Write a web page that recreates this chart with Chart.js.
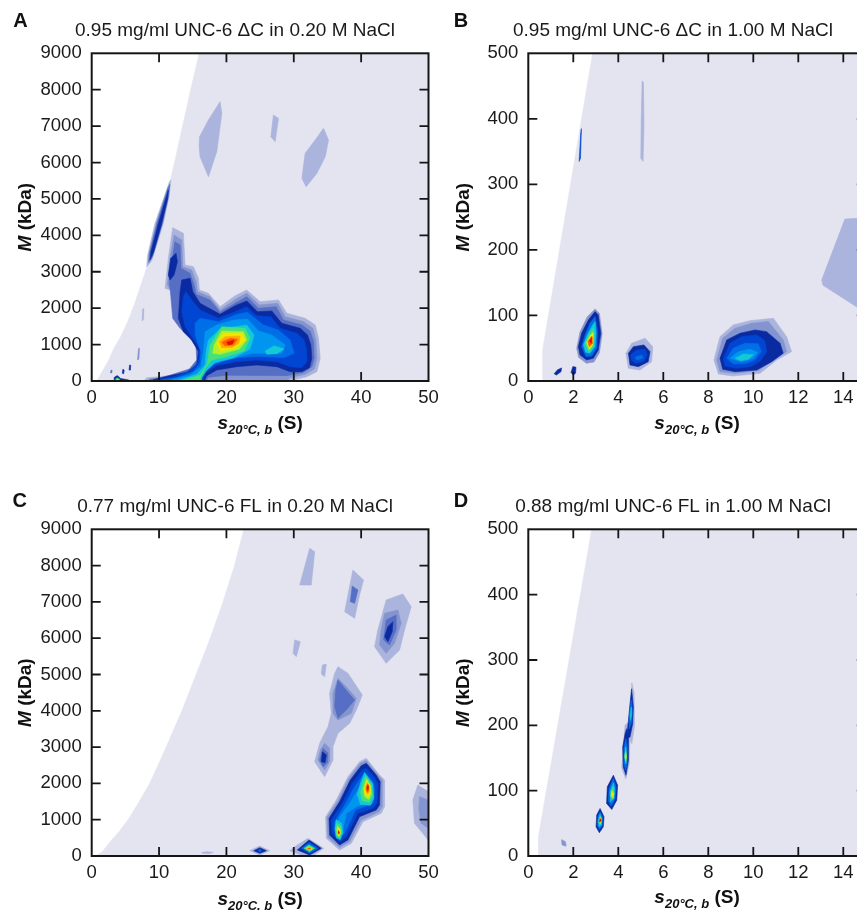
<!DOCTYPE html>
<html><head><meta charset="utf-8">
<script src="https://cdn.jsdelivr.net/npm/chart.js@4.4.1/dist/chart.umd.min.js"></script>
<style>
html,body{margin:0;padding:0;width:857px;height:910px;overflow:hidden;background:#fff;}
.p{position:absolute;}
canvas{display:block;}
</style></head>
<body>
<div class="p" style="left:0;top:0;"><canvas id="cA" width="470" height="440"></canvas></div>
<div class="p" style="left:440px;top:0;"><canvas id="cB" width="466" height="440"></canvas></div>
<div class="p" style="left:0;top:476px;"><canvas id="cC" width="470" height="434"></canvas></div>
<div class="p" style="left:440px;top:476px;"><canvas id="cD" width="466" height="434"></canvas></div>
<script>
// ---------- tick values ----------
const A_xTicks = [0,10,20,30,40,50];
const A_yTicks = [0,1000,2000,3000,4000,5000,6000,7000,8000,9000];
const B_xTicks = [0,2,4,6,8,10,12,14];
const B_yTicks = [0,100,200,300,400,500];

// ---------- panel titles ----------
const titleA = '0.95 mg/ml UNC-6 \u0394C in 0.20 M NaCl';
const titleB = '0.95 mg/ml UNC-6 \u0394C in 1.00 M NaCl';
const titleC = '0.77 mg/ml UNC-6 FL in 0.20 M NaCl';
const titleD = '0.88 mg/ml UNC-6 FL in 1.00 M NaCl';

// ---------- panel A: contour regions (s, M) ----------
const A_bound = [[0.7,0],[0.84,30],[1.7,300],[2.6,600],[3.3,900],[4.3,1217],[5.4,1650],[6.4,2133],[7.6,2800],[8.8,3450],[10.0,4100],[11.0,4900],[11.7,5520],[12.3,6000],[13.5,7000],[14.7,8000],[15.95,9000],[50,9000],[50,0]];
const A_streakP = [[8.17,3139],[8.9,3300],[10.64,4330],[11.5,5100],[11.75,5520],[11.5,5450],[9.4,4330],[8.3,3450]];
const A_streakM = [[8.45,3250],[9.05,3420],[10.5,4330],[11.4,5050],[11.6,5400],[11.3,5300],[9.65,4330],[8.55,3500]];
const A_streakN = [[8.66,3323],[9.2,3550],[10.4,4330],[11.25,5000],[11.38,5245],[11.15,5100],[9.9,4330],[8.8,3550]];
const A_up1 = [[16.0,6700],[17.33,7170],[19.06,7670],[19.32,7350],[18.57,6300],[17.33,5610],[16.09,6160],[15.95,6450]];
const A_up2 = [[26.98,7304],[27.73,7213],[27.24,6571],[26.6,6709]];
const A_up3 = [[34.41,6939],[35.16,6618],[34.67,6159],[33.43,5703],[31.84,5336],[31.2,5566],[31.69,6253],[33.18,6618]];
const A_m1 = [[12.03,4211],[13.61,4055],[13.86,3186],[15.10,3140],[15.84,2820],[15.99,2499],[17.33,2408],[19.06,2042],[21.29,2344],[23.02,2499],[25.0,2179],[27.73,2225],[28.97,1858],[31.69,1721],[33.18,1538],[33.67,1172],[33.92,623],[33.43,257],[31.94,119],[29.96,27],[29.5,-60],[7.6,-60],[7.7,0],[8.2,90],[10.15,119],[14.11,211],[15.59,348],[16.09,623],[16.09,1035],[15.35,1264],[13.61,1538],[12.62,1813],[12.37,2453],[10.89,2545],[11.38,3369]];
const A_m2 = [[12.23,4009],[13.37,3872],[13.51,3140],[14.85,3049],[15.5,2728],[15.7,2453],[17.5,2316],[19.06,1950],[21.4,2252],[23.02,2408],[24.9,2087],[27.6,2133],[28.72,1767],[31.44,1630],[32.83,1447],[33.28,1126],[33.43,623],[33.03,330],[31.69,183],[29.5,92],[28.5,-60],[8.2,-60],[8.6,60],[10.15,95],[14.36,257],[15.84,531],[15.74,989],[15.0,1218],[13.37,1492],[12.23,1767],[12.03,2408],[11.24,2636],[11.63,3369]];
const A_m3 = [[12.37,3826],[13.12,3735],[13.27,3094],[14.6,2957],[15.2,2636],[15.49,2380],[17.57,2225],[19.06,1886],[21.54,2160],[23.02,2316],[24.76,1996],[27.38,2042],[28.47,1675],[31.19,1538],[32.43,1373],[32.93,1080],[33.03,623],[32.68,394],[31.44,238],[28.97,147],[25,150],[20,160],[17.3,100],[16.8,-60],[8.6,-60],[8.66,40],[10.15,70],[14.5,330],[15.59,577],[15.49,943],[14.6,1172],[13.12,1447],[12.03,1721],[11.73,2362],[11.53,2728],[11.88,3277]];
const A_arm4 = [[11.38,2911],[11.73,3369],[12.52,3506],[12.72,3277],[12.23,2911],[11.63,2774]];
const A_m4 = [[13.37,2774],[14.6,2820],[15.0,2453],[16.09,2133],[19.06,1830],[21.29,2069],[23.02,2197],[24.6,1904],[26.74,1922],[28.22,1584],[30.95,1447],[32.04,1264],[32.53,989],[32.68,623],[32.33,367],[31.19,257],[29.46,257],[27.48,394],[24.51,440],[21.54,394],[18.57,303],[17.08,147],[16.58,-60],[8.9,-60],[9.16,40],[11.63,147],[14.11,238],[15.59,440],[15.84,806],[14.85,1126],[13.61,1355],[12.87,1721],[13.12,2453]];
const A_m5 = [[14.0,2453],[14.85,2225],[16.09,1950],[18.81,1721],[21.54,1922],[23.02,2042],[24.41,1794],[26.59,1767],[27.98,1447],[30.45,1309],[31.54,1126],[31.94,806],[31.94,531],[31.19,367],[29.46,394],[27.48,531],[24.51,577],[21.54,531],[18.57,422],[16.98,257],[16.34,-60],[9.5,-60],[9.6,30],[12.13,119],[14.6,274],[15.84,531],[15.99,897],[15.0,1172],[13.86,1492],[13.37,1904],[13.61,2316]];
const A_m6 = [[16.09,1721],[18.81,1630],[21.54,1831],[23.12,1886],[25.5,1538],[27.73,1401],[29.46,1126],[30.06,760],[28.47,641],[25.99,669],[23.52,669],[21.04,623],[18.57,513],[17.08,330],[16.09,119],[16.0,-60],[10.0,-60],[10.1,20],[12.62,92],[15.1,257],[16.09,486],[16.19,806],[15.35,1264],[15.35,1584]];
const A_m7 = [[16.83,1355],[18.57,1538],[21.04,1675],[23.12,1703],[24.76,1373],[26.74,1264],[28.72,989],[28.22,760],[25.99,760],[23.77,760],[21.29,641],[18.32,486],[16.83,257],[16.09,55],[16.0,-60],[10.6,-60],[12.13,55],[14.6,165],[16.19,394],[16.58,806]];
const A_m8 = [[17.33,1126],[19.06,1428],[23.02,1538],[24.11,1264],[23.52,879],[21.04,641],[18.32,513],[17.08,303],[16.34,92],[16.3,-60],[11.0,-60],[13.12,36],[15.59,183],[16.83,440],[16.98,806]];
const A_m8b = [[25.75,824],[27.09,971],[28.57,879],[27.48,751],[25.99,733]];
const A_m9 = [[17.57,989],[19.31,1492],[22.78,1447],[23.52,1172],[22.63,824],[19.8,659],[17.82,577],[16.83,348],[16.09,55],[16.0,-60],[11.6,-60],[13.61,27],[16.09,165],[17.18,486]];
const A_m10 = [[18.17,989],[19.31,1373],[22.53,1355],[23.02,1126],[21.93,879],[19.06,733],[17.97,760]];
const A_m11 = [[18.57,1035],[19.56,1309],[22.28,1309],[22.78,1126],[21.29,897],[19.16,824]];
const A_m12 = [[18.91,1080],[19.8,1218],[22.03,1236],[21.84,1035],[20.79,916],[19.31,916]];
const A_m13 = [[19.31,1062],[20.55,1172],[21.64,1145],[21.04,989],[19.8,971]];
const A_m14 = [[20.05,1062],[21.14,1126],[20.89,1017],[20.3,989]];
const A_dash2 = [[7.5,1650],[7.7,1700],[7.72,2000],[7.55,1960]];
const A_dash1 = [[6.8,580],[7.0,600],[7.1,900],[6.95,890]];
const A_dot3 = [[2.8,220],[3.0,230],[3.02,300],[2.85,290]];
const A_dot1 = [[4.55,210],[4.75,200],[4.82,300],[4.62,320]];
const A_dot2 = [[5.55,300],[5.75,300],[5.8,430],[5.62,440]];
const A_sp1 = [[3.3,-60],[3.35,100],[3.8,150],[4.3,70],[5.5,30],[5.6,-60]];
const A_sp2 = [[3.5,-60],[3.6,70],[3.9,85],[4.25,25],[4.4,-60]];
const A_sp3 = [[3.65,-60],[3.75,40],[3.95,35],[4.05,-60]];

// ---------- panel B ----------
const B_bound = [[0.64,0],[0.64,48],[2.86,500],[15.5,500],[15.5,0]];
const B_s1 = [[5.0,340],[5.1,335],[5.14,390],[5.12,455],[5.06,458],[5.02,400]];
const B_s2 = [[2.26,335],[2.32,340],[2.36,385],[2.33,378]];
const B_r = [[13.04,154],[14.07,247],[15.5,250],[15.5,100],[14.6,113],[13.1,146]];
const B_d1 = [[1.15,11],[1.3,17],[1.48,20],[1.45,14],[1.25,9]];
const B_d2 = [[1.9,13],[1.98,22],[2.12,21],[2.1,12],[2.0,9]];
const B_p1_1 = [[2.15,50],[2.3,75],[2.62,98],[2.97,110],[3.16,103],[3.28,72],[3.16,43],[2.92,29],[2.58,27],[2.24,36]];
const B_p1_3 = [[2.224,52.4],[2.37,72.8],[2.67,93.2],[2.965,105.9],[3.11,100.8],[3.22,72.8],[3.11,47.3],[2.89,34.6],[2.594,32.1],[2.30,39.7]];
const B_p1_5 = [[2.37,52.4],[2.52,70.3],[2.74,88.1],[2.965,98.3],[3.07,78],[3.04,50],[2.82,38.2],[2.565,37.2]];
const B_p1_7 = [[2.45,55],[2.62,70.3],[2.82,83],[2.965,90.6],[3.01,72.8],[2.965,52.4],[2.74,42.3],[2.55,43.3]];
const B_p1_8 = [[2.52,57.5],[2.71,71.3],[2.89,80.4],[2.92,67.7],[2.89,52.4],[2.70,44.8]];
const B_p1_10 = [[2.594,58.5],[2.77,70.3],[2.89,73.8],[2.86,55],[2.71,48.4]];
const B_p1_12 = [[2.65,60],[2.82,68.7],[2.85,57.5],[2.71,52.4]];
const B_p1_13 = [[2.71,61.6],[2.83,66.7],[2.80,57.5]];
const B_p2_0 = [[4.34,42.3],[4.595,57.5],[5.19,65.2],[5.53,52.4],[5.48,29.5],[4.965,16.8],[4.45,19.4]];
const B_p2_3 = [[4.45,42.3],[4.67,52.4],[5.14,55],[5.41,44.8],[5.33,29.5],[4.89,21.9],[4.52,24.4]];
const B_p2_4 = [[4.55,39.7],[4.82,47.3],[5.19,48.4],[5.29,39.7],[5.11,29.5],[4.74,27],[4.58,32.1]];
const B_p2_5 = [[4.74,36.1],[5.04,39.7],[5.11,34.6],[4.82,32.1]];
const B_p3_0 = [[8.25,32.1],[8.52,67.7],[9.11,85.5],[9.855,92.1],[10.89,95.7],[11.48,67.7],[11.70,44.8],[11.04,32.1],[10.30,11.7],[9.11,7.6],[8.45,10.7]];
const B_p3_1 = [[8.37,32.1],[8.64,65.2],[9.19,80.4],[9.93,88.1],[10.67,90.6],[11.33,62.6],[11.48,44.8],[10.89,32.1],[10.22,15.8],[9.19,11.7],[8.52,14.3]];
const B_p3_3 = [[8.52,34.6],[8.82,62.6],[9.41,72.8],[10.08,77.9],[10.59,75.3],[11.19,57.5],[11.33,42.3],[10.82,29.5],[10.15,16.8],[9.19,14.3],[8.64,17.9]];
const B_p3_4 = [[8.67,34.6],[8.97,57.5],[9.48,67.7],[10.15,70],[10.5,62],[10.6,45],[10.3,30],[9.9,22],[9.26,19.4],[8.74,23]];
const B_p3_5 = [[8.82,34.6],[9.11,49.9],[9.63,57.5],[10.22,57],[10.35,45],[10.1,33],[9.70,27],[9.11,26]];
const B_p3_6 = [[8.97,34.6],[9.33,44.8],[9.855,48.4],[10.2,44],[10.0,34.6],[9.48,29.5]];
const B_p3_7 = [[9.19,34.6],[9.56,41.3],[10.0,40],[9.78,33.1],[9.41,31.1]];

// ---------- panel C ----------
const C_bound = [[0,0],[0.7,20],[1.5,100],[2.9,430],[4.2,700],[5.4,1000],[7.0,1480],[8.6,2000],[9.8,2480],[11.06,3000],[13.4,4000],[15.5,5000],[17.6,6000],[19.5,7000],[21.2,8000],[22.6,9000],[50,9000],[50,0]];
const C_t1 = [[32.36,8476],[33.1,8384],[32.6,7465],[30.88,7465],[31.62,7970]];
const C_t2o = [[38.78,7879],[40.36,7603],[39.77,7190],[39.03,6547],[37.55,6731],[38.04,7190]];
const C_t2i = [[38.68,7438],[39.52,7328],[39.03,6960],[38.39,7006]];
const C_t3a = [[43.72,7052],[46.19,7218],[47.43,6869],[46.44,6226],[45.7,5675],[43.72,5307],[41.99,5767],[42.48,6226]];
const C_t3b = [[43.48,6685],[45.45,6777],[45.95,6410],[44.96,5859],[43.72,5583],[42.74,5813],[42.98,6226]];
const C_t3c = [[43.72,6502],[45.2,6639],[45.2,6226],[44.22,5813],[43.33,5951]];
const C_t3d = [[43.97,6318],[44.71,6455],[44.61,6180],[43.97,5905],[43.48,6042]];
const C_t4 = [[30.14,5951],[30.97,5904],[30.38,5491],[29.89,5583]];
const C_t5 = [[34.24,5261],[34.83,5289],[34.58,4940],[34.09,5014]];
const C_ma = [[36.56,5216],[38.04,5032],[40.17,4435],[39.28,4022],[38.29,3654],[36.56,3379],[35.82,3012],[35.82,2645],[34.58,2185],[33.1,2598],[33.84,3103],[35.08,3563],[35.57,3930],[35.32,4481],[36.07,5032]];
const C_mb = [[36.56,4894],[37.79,4664],[39.28,4343],[38.54,3930],[36.56,3746],[35.82,3930],[35.82,4481]];
const C_mc = [[36.56,4848],[37.55,4619],[39.03,4297],[37.79,4022],[36.56,3792],[36.07,4113],[36.22,4573]];
const C_lb = [[34.58,3103],[35.32,2966],[35.32,2599],[34.58,2369],[33.59,2644],[33.94,2920]];
const C_lc = [[34.34,2966],[35.08,2828],[34.98,2571],[34.34,2461],[33.84,2644]];
const C_ld = [[34.24,2874],[34.83,2782],[34.63,2571],[34.09,2599]];
const C_M0 = [[40.76,2690],[42.74,2231],[43.48,2093],[43.48,1359],[42.98,1175],[40.27,946],[38.54,349],[36.8,165],[34.83,487],[34.73,1084],[36.31,1543],[38.04,2185],[39.77,2598]];
const C_M1 = [[40.76,2626],[42.49,2231],[43.13,2093],[43.13,1359],[42.64,1221],[40.02,991],[38.29,395],[36.8,238],[35.08,514],[34.93,1065],[36.56,1524],[38.19,2139],[39.87,2552]];
const C_M3 = [[40.76,2552],[42.24,2231],[42.83,2047],[42.74,1405],[42.24,1267],[39.77,1083],[38.04,441],[36.8,303],[35.32,578],[35.23,1037],[36.8,1496],[38.39,2093],[40.02,2488]];
const C_M4 = [[40.76,2415],[42.0,2167],[42.49,1983],[42.34,1451],[41.75,1313],[39.52,1175],[37.79,533],[36.8,395],[35.67,624],[35.57,991],[37.2,1451],[38.68,2002],[40.17,2369]];
const C_M5 = [[40.66,2277],[41.75,2047],[42.0,1864],[41.85,1469],[41.25,1405],[39.18,1267],[37.55,624],[36.8,514],[36.07,716],[36.07,946],[37.55,1405],[39.03,1910],[40.27,2231]];
const C_M6 = [[40.76,2139],[41.5,1956],[41.65,1726],[41.5,1496],[39.52,1377],[37.79,1175],[37.3,716],[36.7,606],[36.31,808],[36.8,1083],[38.29,1451],[39.52,1818]];
const C_M7a = [[40.5,2300],[41.7,2000],[41.9,1600],[41.4,1400],[39.9,1420],[39.4,1700],[40.0,2050]];
const C_M8a = [[40.7,2200],[41.55,1950],[41.7,1650],[41.2,1480],[40.2,1520],[39.9,1750],[40.3,2050]];
const C_M9a = [[40.8,2120],[41.4,1930],[41.5,1700],[41.1,1560],[40.5,1640],[40.35,1850]];
const C_M10a = [[40.85,2060],[41.3,1920],[41.35,1750],[41.0,1640],[40.6,1720],[40.5,1880]];
const C_M11a = [[40.9,2020],[41.2,1910],[41.2,1780],[40.95,1700],[40.7,1790],[40.65,1900]];
const C_M12a = [[40.95,1990],[41.15,1900],[41.1,1800],[40.9,1750],[40.75,1850]];
const C_M13a = [[41.0,1960],[41.1,1890],[41.0,1810],[40.85,1870]];
const C_M7b = [[36.3,1000],[37.1,900],[37.3,650],[36.9,450],[36.3,500],[36.1,750]];
const C_M8b = [[36.4,900],[37.0,820],[37.1,640],[36.8,500],[36.35,560],[36.25,750]];
const C_M9b = [[36.5,820],[36.9,740],[36.95,620],[36.7,540],[36.45,600],[36.4,720]];
const C_M10b = [[36.55,760],[36.85,700],[36.85,610],[36.65,570],[36.5,630]];
const C_M12b = [[36.6,710],[36.8,660],[36.75,600],[36.6,620]];
const C_M13b = [[36.65,680],[36.75,650],[36.65,610],[36.6,640]];
const C_b0 = [[32.11,487],[34.43,211],[32.36,-60],[29.39,147],[30.14,257]];
const C_b3 = [[32.26,440],[34.09,211],[32.36,28],[30.53,165]];
const C_b5 = [[32.26,367],[33.59,211],[32.36,73],[31.12,211]];
const C_b8 = [[32.26,303],[33.1,211],[32.36,119],[31.52,211]];
const C_b10 = [[32.31,257],[32.75,202],[32.31,156],[31.87,211]];
const C_b12 = [[32.31,230],[32.55,205],[32.31,180],[32.05,205]];
const C_c0 = [[23.47,147],[24.95,275],[26.43,147],[24.95,28]];
const C_c3 = [[24.06,147],[24.95,229],[25.94,147],[24.95,73]];
const C_c5 = [[24.7,147],[24.95,190],[25.2,147],[24.95,110]];
const C_f = [[16.3,92],[17.0,120],[18.03,100],[17.5,70],[16.5,75]];
const C_r0 = [[48.42,1956],[49.16,1864],[50.5,1726],[50.5,300],[49.16,624],[47.92,900],[47.68,1542]];
const C_r1 = [[48.67,1634],[49.9,1542],[50.5,1400],[50.5,700],[48.91,900],[48.57,1267]];

// ---------- panel D ----------
const D_bound = [[0.45,0],[0.45,29.5],[2.82,500],[15.5,500],[15.5,0]];
const D_1_3 = [[3.19,72.7],[3.365,60],[3.335,44.7],[3.157,35.6],[3.01,44.7],[3.04,62.6]];
const D_1_5 = [[3.19,67.6],[3.306,59],[3.276,45.8],[3.157,40.7],[3.07,47.3],[3.1,61]];
const D_1_7 = [[3.19,64],[3.26,57.5],[3.25,47.3],[3.14,44.7],[3.11,55]];
const D_1_9 = [[3.2,60],[3.25,55],[3.22,49.9],[3.14,50.9]];
const D_1_13 = [[3.19,57.5],[3.25,54],[3.16,51.9]];
const D_2_3 = [[3.78,123.6],[3.97,108.4],[3.93,85.5],[3.71,71.2],[3.48,80.4],[3.51,105.8]];
const D_2_5 = [[3.78,118.5],[3.9,105.8],[3.85,86.5],[3.68,76.3],[3.56,84.4],[3.59,103.3]];
const D_2_7 = [[3.78,111.9],[3.84,101.7],[3.81,88],[3.66,82.9],[3.63,98.2]];
const D_2_8 = [[3.76,105.8],[3.81,95.6],[3.75,88],[3.66,91.6]];
const D_2_10 = [[3.72,100],[3.8,95],[3.76,88],[3.69,93]];
const D_3_0 = [[4.15,135],[4.3,200],[4.45,205],[4.52,185],[4.48,140],[4.33,118]];
const D_3_3 = [[4.37,194.9],[4.45,179.6],[4.45,146.5],[4.34,123.6],[4.22,136.4],[4.195,166.9],[4.3,187.2]];
const D_3_5 = [[4.34,179.6],[4.4,166.9],[4.4,144],[4.33,131.3],[4.25,141.4],[4.25,166.9]];
const D_3_8 = [[4.33,166.9],[4.37,154.2],[4.34,141.4],[4.28,151.6]];
const D_3_9 = [[4.32,158],[4.36,152],[4.33,146],[4.3,152]];
const D_4_0 = [[4.5,180],[4.6,265],[4.7,250],[4.72,200],[4.6,172]];
const D_4_3 = [[4.59,255.9],[4.67,227.9],[4.64,202.5],[4.52,182.1],[4.37,179.6],[4.45,207.6],[4.52,233]];
const D_4_5 = [[4.59,238.2],[4.62,222.9],[4.59,205],[4.49,194.9],[4.48,212.7],[4.52,227.9]];
const D_4_7 = [[4.58,227.9],[4.6,217.8],[4.55,207.6],[4.52,215.2]];
const D_5 = [[1.48,25],[1.65,22],[1.68,15],[1.5,17]];

// ---------- styling ----------
const FF = "'Liberation Sans', Arial, Helvetica, sans-serif";
const BG_COLOR = '#e3e4f0';
const LEVEL_COLORS = ['#aab4dc','#8494cf','#566ec3','#0a2aa2','#0046d2','#006ee6','#0096f0','#14c8d7','#46e178','#b4f028','#f8e400','#ffaa00','#ff5a00','#e01000'];

const layersA = [[A_streakP,0],[A_streakM,2],[A_streakN,3],[A_up1,0],[A_up2,0],[A_up3,0],[A_m1,0],[A_m2,1],[A_m3,2],[A_arm4,3],[A_m4,3],[A_m5,4],[A_m6,5],[A_m7,6],[A_m8,7],[A_m8b,7],[A_m9,8],[A_m10,9],[A_m11,10],[A_m12,11],[A_m13,12],[A_m14,13],[A_dash2,0],[A_dash1,1],[A_dot3,2],[A_dot1,3],[A_dot2,3],[A_sp1,3],[A_sp2,8],[A_sp3,10]];
const layersB = [[B_s1,0],[B_s2,4],[B_r,0],[B_d1,3],[B_d2,3],[B_p1_1,1],[B_p1_3,3],[B_p1_5,5],[B_p1_7,7],[B_p1_8,8],[B_p1_10,10],[B_p1_12,12],[B_p1_13,13],[B_p2_0,0],[B_p2_3,3],[B_p2_4,4],[B_p2_5,5],[B_p3_0,0],[B_p3_1,1],[B_p3_3,3],[B_p3_4,4],[B_p3_5,5],[B_p3_6,6],[B_p3_7,7]];
const layersC = [[C_t1,0],[C_t2o,0],[C_t2i,2],[C_t3a,0],[C_t3b,1],[C_t3c,2],[C_t3d,3],[C_t4,0],[C_t5,0],[C_ma,0],[C_mb,1],[C_mc,2],[C_lb,1],[C_lc,2],[C_ld,3],[C_M0,0],[C_M1,1],[C_M3,3],[C_M4,4],[C_M5,5],[C_M6,6],[C_M7a,7],[C_M8a,8],[C_M9a,9],[C_M10a,10],[C_M11a,11],[C_M12a,12],[C_M13a,13],[C_M7b,7],[C_M8b,8],[C_M9b,9],[C_M10b,10],[C_M12b,12],[C_M13b,13],[C_b0,0],[C_b3,3],[C_b5,5],[C_b8,8],[C_b10,10],[C_b12,12],[C_c0,0],[C_c3,3],[C_c5,5],[C_f,0],[C_r0,0],[C_r1,1]];
const layersD = [[D_5,1],[D_1_3,3],[D_1_5,5],[D_1_7,7],[D_1_9,9],[D_1_13,13],[D_2_3,3],[D_2_5,5],[D_2_7,7],[D_2_8,8],[D_2_10,10],[D_3_0,0],[D_4_0,0],[D_3_3,3],[D_3_5,5],[D_3_8,8],[D_3_9,9],[D_4_3,3],[D_4_5,5],[D_4_7,7]];

const polyPlugin = {
  id: 'polyFill',
  beforeDatasetsDraw(chart) {
    const ctx = chart.ctx, a = chart.chartArea;
    ctx.save();
    ctx.beginPath();
    ctx.rect(a.left, a.top, a.right - a.left, a.bottom - a.top);
    ctx.clip();
    chart.data.datasets.forEach((ds, i) => {
      const pts = chart.getDatasetMeta(i).data;
      if (!pts.length) return;
      ctx.beginPath();
      pts.forEach((p, j) => j ? ctx.lineTo(p.x, p.y) : ctx.moveTo(p.x, p.y));
      ctx.closePath();
      ctx.fillStyle = ds.polyColor;
      ctx.fill();
      ctx.lineJoin = 'round';
      ctx.strokeStyle = ds.polyColor;
      ctx.lineWidth = 0.6;
      ctx.stroke();
    });
    ctx.restore();
  }
};

function decorPlugin(cfg) {
  return {
    id: 'decor',
    afterDraw(chart) {
      const ctx = chart.ctx, a = chart.chartArea, sx = chart.scales.x, sy = chart.scales.y;
      const TL = 9;
      ctx.save();
      ctx.strokeStyle = '#151515';
      ctx.lineWidth = 1.8;
      ctx.beginPath();
      sx.ticks.forEach(t => {
        const px = sx.getPixelForValue(t.value);
        if (px <= a.left + 1 || px >= a.right - 1) return;
        ctx.moveTo(px, a.bottom); ctx.lineTo(px, a.bottom - TL);
        ctx.moveTo(px, a.top); ctx.lineTo(px, a.top + TL);
      });
      sy.ticks.forEach(t => {
        const py = sy.getPixelForValue(t.value);
        if (py >= a.bottom - 1 || py <= a.top + 1) return;
        ctx.moveTo(a.left, py); ctx.lineTo(a.left + TL, py);
        ctx.moveTo(a.right, py); ctx.lineTo(a.right - TL, py);
      });
      ctx.stroke();
      ctx.lineWidth = 2;
      ctx.strokeRect(a.left, a.top, a.right - a.left, a.bottom - a.top);

      ctx.fillStyle = '#111';
      ctx.font = 'bold 20px ' + FF;
      ctx.textAlign = 'center';
      ctx.textBaseline = 'middle';
      ctx.fillText(cfg.letter, cfg.lx, cfg.ly);

      ctx.save();
      ctx.translate(cfg.ytx, (a.top + a.bottom) / 2);
      ctx.rotate(-Math.PI / 2);
      const fI = 'italic bold 19px ' + FF, fB = 'bold 19px ' + FF;
      ctx.font = fI; const w1 = ctx.measureText('M').width;
      ctx.font = fB; const w2 = ctx.measureText(' (kDa)').width;
      const x0 = -(w1 + w2) / 2;
      ctx.textAlign = 'left';
      ctx.textBaseline = 'middle';
      ctx.font = fI; ctx.fillText('M', x0, 0);
      ctx.font = fB; ctx.fillText(' (kDa)', x0 + w1, 0);
      ctx.restore();

      const fS = 'italic bold 13px ' + FF;
      ctx.font = fI; const a1 = ctx.measureText('s').width;
      ctx.font = fS; const a2 = ctx.measureText('20\u00B0C, b').width;
      ctx.font = fB; const a3 = ctx.measureText(' (S)').width;
      const xs = (a.left + a.right) / 2 - (a1 + a2 + a3) / 2;
      const base = cfg.xty + 7;
      ctx.textAlign = 'left';
      ctx.textBaseline = 'alphabetic';
      ctx.font = fI; ctx.fillText('s', xs, base);
      ctx.font = fS; ctx.fillText('20\u00B0C, b', xs + a1, base + 5);
      ctx.font = fB; ctx.fillText(' (S)', xs + a1 + a2, base);
      ctx.restore();
    }
  };
}

function toXY(arr) { return arr.map(([x, y]) => ({x, y})); }

function makeChart(id, p) {
  const datasets = [{data: toXY(p.bound), polyColor: BG_COLOR}];
  p.layers.forEach(([arr, lv]) => datasets.push({data: toXY(arr), polyColor: LEVEL_COLORS[lv]}));
  const tickFont = {family: FF, size: 18.5};
  return new Chart(document.getElementById(id), {
    type: 'scatter',
    data: {datasets},
    options: {
      responsive: false,
      animation: false,
      events: [],
      layout: {padding: 0},
      elements: {point: {radius: 0, hoverRadius: 0, hitRadius: 0}},
      plugins: {
        legend: {display: false},
        tooltip: {enabled: false},
        title: {display: true, text: p.title, color: '#1a1a1a',
          font: {family: FF, size: 19, weight: 'normal', lineHeight: 1.2},
          padding: {top: 18.9, bottom: 11.6}}
      },
      scales: {
        x: {type: 'linear', position: 'bottom', min: p.xMin, max: p.xMax,
          afterBuildTicks: s => { s.ticks = p.xTicks.map(v => ({value: v})); },
          afterFit: s => { s.height = p.xH; },
          ticks: {color: '#1a1a1a', font: tickFont, padding: 6, maxRotation: 0, autoSkip: false, callback: v => String(v)},
          grid: {display: false, drawTicks: false}, border: {display: false}},
        y: {type: 'linear', position: 'left', min: p.yMin, max: p.yMax,
          afterBuildTicks: s => { s.ticks = p.yTicks.map(v => ({value: v})); },
          afterFit: s => { s.width = p.yW; },
          ticks: {color: '#1a1a1a', font: tickFont, padding: 10, autoSkip: false, callback: v => String(v)},
          grid: {display: false, drawTicks: false}, border: {display: false}},
        y2: {type: 'linear', position: 'right', display: true,
          afterFit: s => { s.width = p.y2W; },
          ticks: {display: false}, grid: {display: false, drawTicks: false}, border: {display: false}}
      }
    },
    plugins: [polyPlugin, decorPlugin(p.decor)]
  });
}

makeChart('cA', {title: titleA, bound: A_bound, layers: layersA, xMin: 0, xMax: 50, yMin: 0, yMax: 9000,
  xTicks: A_xTicks, yTicks: A_yTicks, yW: 91.7, y2W: 41.5, xH: 59,
  decor: {letter: 'A', lx: 20.5, ly: 21.5, ytx: 25.5, xty: 421.5}});
makeChart('cB', {title: titleB, bound: B_bound, layers: layersB, xMin: 0, xMax: 15, yMin: 0, yMax: 500,
  xTicks: B_xTicks, yTicks: B_yTicks, yW: 88.3, y2W: 40.2, xH: 59,
  decor: {letter: 'B', lx: 21, ly: 21, ytx: 24, xty: 421.5}});
makeChart('cC', {title: titleC, bound: C_bound, layers: layersC, xMin: 0, xMax: 50, yMin: 0, yMax: 9000,
  xTicks: A_xTicks, yTicks: A_yTicks, yW: 91.7, y2W: 41.5, xH: 54,
  decor: {letter: 'C', lx: 19.7, ly: 25, ytx: 25.5, xty: 421.5}});
makeChart('cD', {title: titleD, bound: D_bound, layers: layersD, xMin: 0, xMax: 15, yMin: 0, yMax: 500,
  xTicks: B_xTicks, yTicks: B_yTicks, yW: 88.3, y2W: 40.2, xH: 54,
  decor: {letter: 'D', lx: 21, ly: 25, ytx: 24, xty: 420}});
</script>
</body></html>
